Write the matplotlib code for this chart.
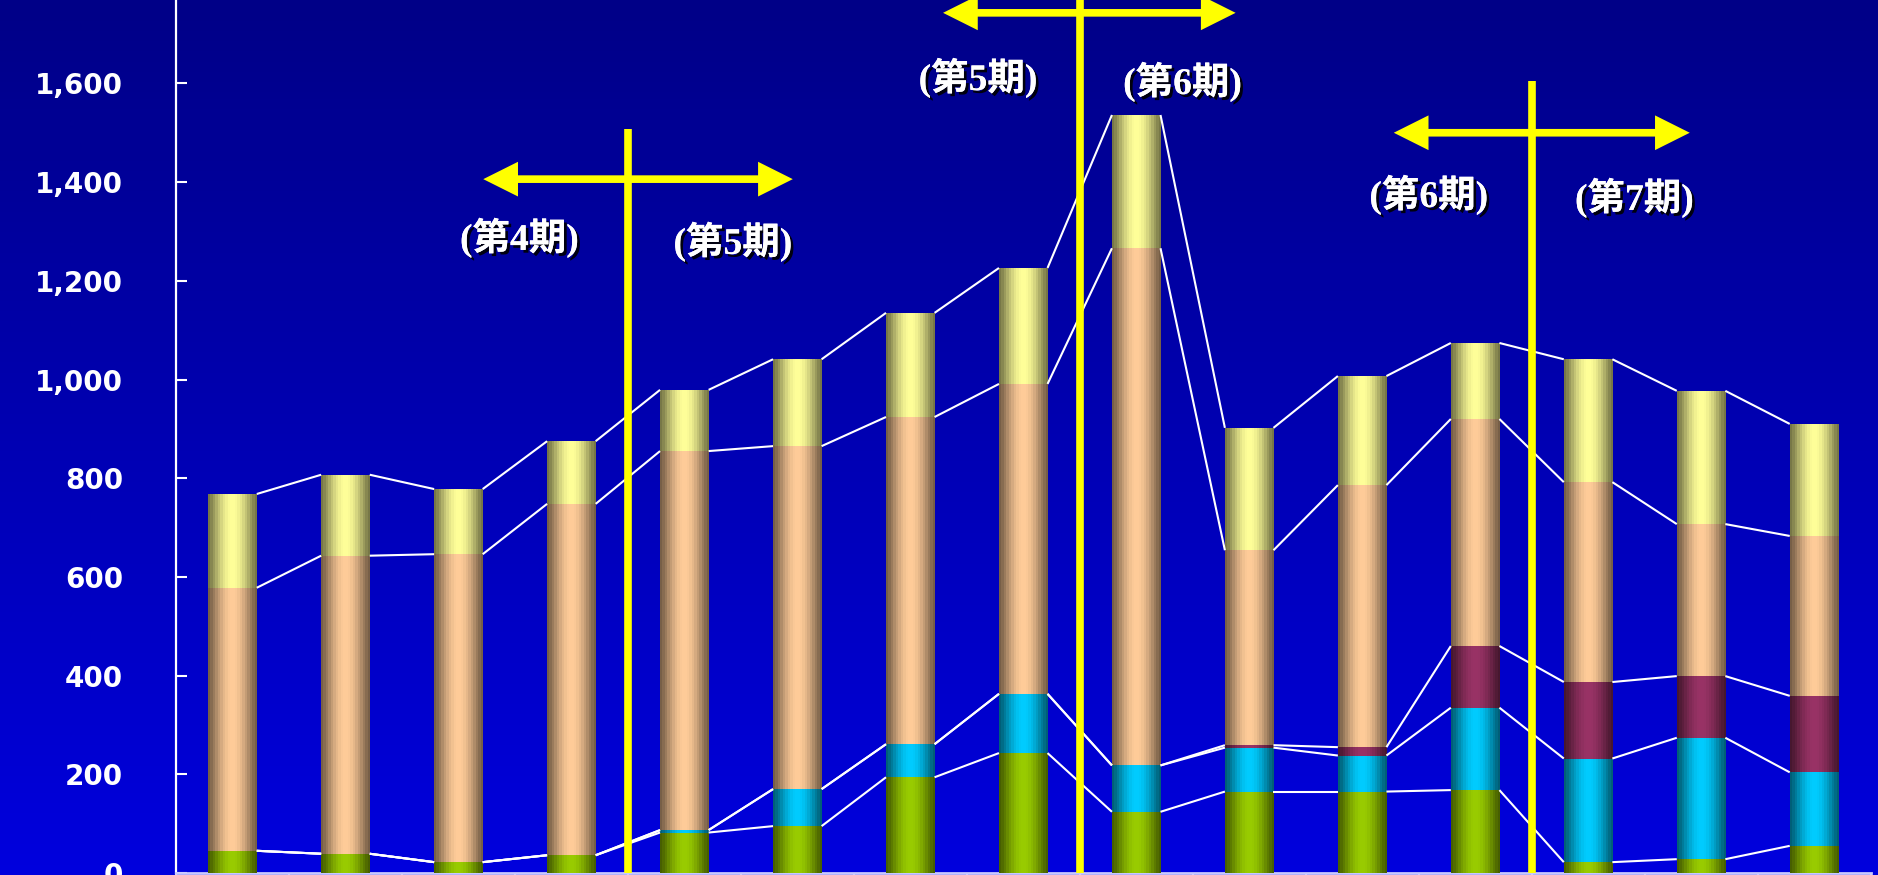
import numpy as np
import matplotlib
matplotlib.use("Agg")
import matplotlib.pyplot as plt
import matplotlib.patheffects as pe
from matplotlib.collections import LineCollection

# 15本の積み上げ棒 (下から順)
green  = [45, 39, 22, 36, 82, 95, 194, 243, 124, 165, 165, 168, 22, 28, 55]
cyan   = [0, 0, 0, 0, 5, 75, 67, 120, 94, 89, 73, 167, 210, 246, 149]
maroon = [0, 0, 0, 0, 0, 0, 0, 0, 0, 5, 17, 125, 155, 125, 155]
orange = [533, 604, 624, 712, 768, 695, 663, 628, 1048, 395, 531, 460, 405, 308, 324]
yellow = [190, 164, 132, 127, 124, 176, 211, 235, 270, 248, 221, 154, 249, 270, 227]

series = [green, cyan, maroon, orange, yellow]
peak_colors = [(0.6, 0.8, 0.0), (0.0, 0.8, 1.0), (0.6, 0.2, 0.4),
               (1.0, 0.8, 0.6), (1.0, 1.0, 0.6)]

yticks = [0, 200, 400, 600, 800, 1000, 1200, 1400, 1600]

# 期の区切り線と矢印
div_x = [3.5, 7.5, 11.5]
div_top = [1508, 1850, 1605]
arrow_y = [1406, 1743, 1500]
arrow_l = [2.22, 6.29, 10.28]
arrow_r = [4.96, 8.88, 12.90]
period_labels = ["(第4期)", "(第5期)", "(第5期)", "(第6期)", "(第6期)", "(第7期)"]
label_x = [2.54, 4.43, 6.60, 8.41, 10.59, 12.41]
label_y = [1287, 1279, 1611, 1603, 1374, 1368]

n = len(green)
x = np.arange(n)
bar_w = 0.43

fig = plt.figure(figsize=(18.78, 8.75), dpi=100)

# 背景のグラデーション
bg = fig.add_axes([0, 0, 1, 1])
g = np.linspace(0, 1, 256)
bg_img = np.zeros((256, 1, 3))
bg_img[:, 0, 2] = 0.53 + 0.34 * g
bg.imshow(bg_img, aspect="auto", extent=[0, 1, 0, 1], origin="upper")
bg.axis("off")

ax = fig.add_axes([176 / 1878, 2 / 875, (1870.5 - 176) / 1878, 873 / 875])
ax.set_facecolor("none")

# 円柱っぽい陰影
t = np.linspace(0, 1, 20)
shade = 0.47 + 0.53 * np.sin(np.pi * t) ** 1.2

bottom = np.zeros(n)
levels = []
for vals, col in zip(series, peak_colors):
    vals = np.array(vals, dtype=float)
    bars = ax.bar(x, vals, bar_w, bottom=bottom, color=col, linewidth=0, zorder=2)
    grad = np.array(col)[None, None, :] * shade[None, :, None]
    for b, v in zip(bars, vals):
        if v <= 0:
            continue
        im = ax.imshow(grad, extent=(b.get_x(), b.get_x() + b.get_width(),
                                     b.get_y(), b.get_y() + b.get_height()),
                       aspect="auto", interpolation="nearest", zorder=3)
        im.set_clip_path(b)
    bottom = bottom + vals
    levels.append(bottom.copy())

# 系列線
segs = []
for lev in levels:
    for i in range(n - 1):
        segs.append([(x[i] + bar_w / 2, lev[i]), (x[i + 1] - bar_w / 2, lev[i + 1])])
ax.add_collection(LineCollection(segs, colors="white", linewidths=1.5, zorder=4))

# 黄色の区切り
arrow_style = "simple,head_length=2.5,head_width=2.5,tail_width=0.55"
for dx, top, ay, al, ar in zip(div_x, div_top, arrow_y, arrow_l, arrow_r):
    ax.vlines(dx, 0, top, colors="yellow", linewidth=5.5, zorder=6)
    for tip in (al, ar):
        ax.annotate("", xy=(tip, ay), xytext=(dx, ay),
                    arrowprops=dict(arrowstyle=arrow_style, color="yellow", lw=0,
                                    shrinkA=0, shrinkB=0, mutation_scale=10),
                    zorder=6, annotation_clip=False)

for s, lx, ly in zip(period_labels, label_x, label_y):
    ax.text(lx, ly, s, ha="center", va="center", color="white", fontsize=27,
            fontweight="bold", family=["Liberation Serif", "Noto Sans CJK JP"],
            zorder=7,
            path_effects=[pe.withSimplePatchShadow(offset=(2, -2),
                                                    shadow_rgbFace="black", alpha=0.9),
                          pe.Normal()])

ax.set_xlim(-0.5, n - 0.5)
ax.set_ylim(0, 1769)

ax.set_yticks(yticks)
ax.set_yticklabels([f"{v:,}" for v in yticks], fontweight="bold")
ax.tick_params(axis="y", direction="in", length=8, width=1.5, colors="white",
               labelsize=20, pad=38)
ax.set_xticks(np.arange(n + 1) - 0.5)
ax.set_xticklabels([])
ax.tick_params(axis="x", direction="out", length=4, width=1.5, colors="white")

for side in ["top", "right"]:
    ax.spines[side].set_visible(False)
ax.spines["left"].set_color("white")
ax.spines["left"].set_linewidth(1.6)
ax.spines["bottom"].set_color("#c8c8ff")
ax.spines["bottom"].set_linewidth(2)

fig.savefig("out.png", dpi=100)
